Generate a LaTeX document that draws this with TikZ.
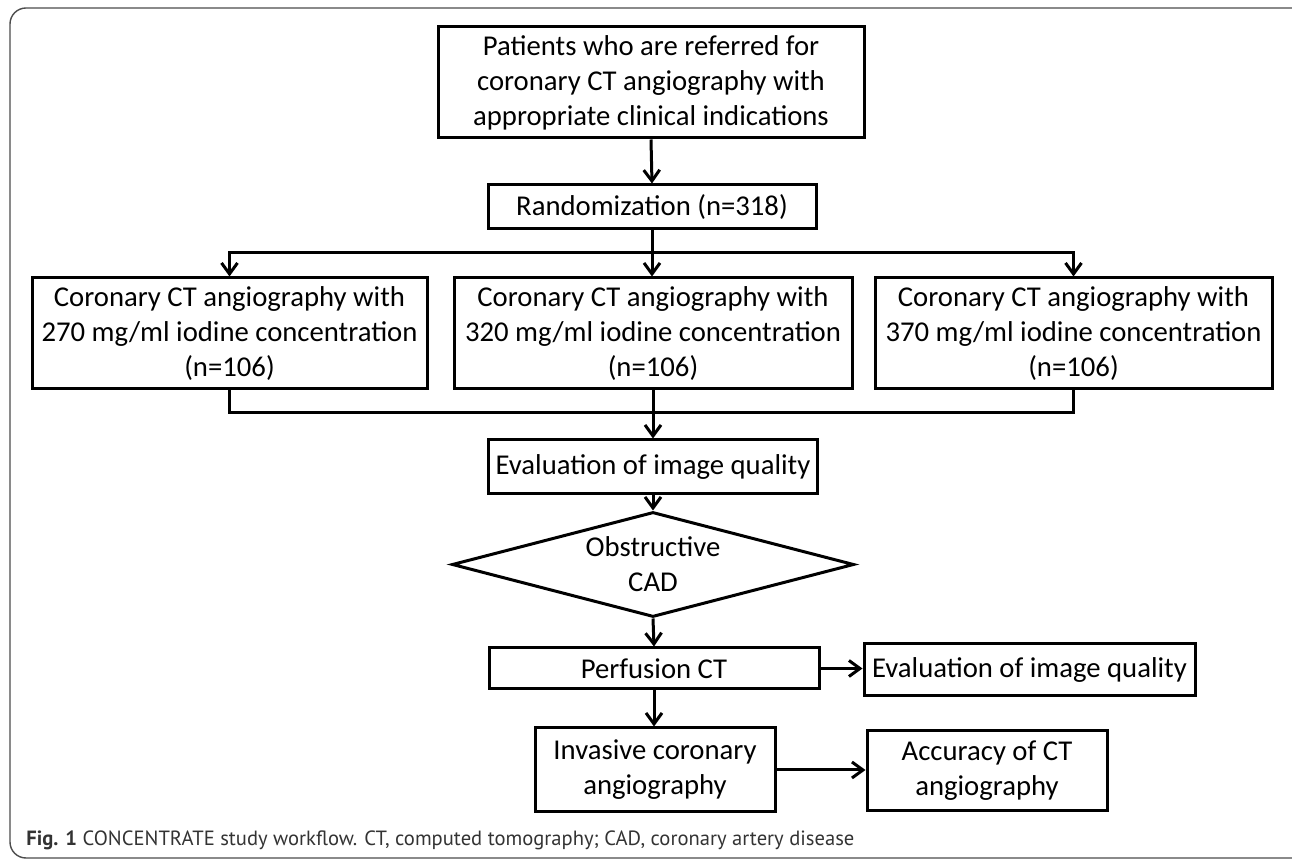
\documentclass[tikz,border=0pt]{standalone}
\usepackage{fontspec}
\setmainfont{Carlito}
\newfontfamily\capfont{PT Sans}
\usetikzlibrary{arrows.meta,shapes.geometric}

\tikzset{
  flowbox/.style={draw, line width=1.5pt, align=center, inner sep=0pt,
    font=\fontsize{14.35}{17.5}\selectfont},
  decision/.style={flowbox, diamond, aspect=3.8},
  flowline/.style={line width=1.5pt},
  flowarrow/.style={flowline, -{Straight Barb[length=5.5pt,width=8pt]}}
}

\begin{document}
\begin{tikzpicture}[x=0.5pt,y=-0.5pt]
        % page and frame
        \useasboundingbox (0,0) rectangle (1292,860);
        \draw[black!70, line width=0.7pt, rounded corners=8pt] (10,8) rectangle (1320,858);
        % boxes
        \node[flowbox, minimum width=213pt, minimum height=55.5pt] (patients) at (651,82.5)
          {Patients who are referred for\\coronary CT angiography with\\appropriate clinical indications};
        \node[flowbox, minimum width=164pt, minimum height=22pt] (random) at (652,207)
          {Randomization (n=318)};
        \node[flowbox, minimum width=197.5pt, minimum height=55.5pt] (conc270) at (229.5,333.5)
          {Coronary CT angiography with\\270 mg/ml iodine concentration\\(n=106)};
        \node[flowbox, minimum width=199pt, minimum height=55.5pt] (conc320) at (653,333.5)
          {Coronary CT angiography with\\320 mg/ml iodine concentration\\(n=106)};
        \node[flowbox, minimum width=198.5pt, minimum height=55.5pt] (conc370) at (1073.5,333.5)
          {Coronary CT angiography with\\370 mg/ml iodine concentration\\(n=106)};
        \node[flowbox, minimum width=164.5pt, minimum height=27pt] (evalimg) at (653,467)
          {Evaluation of image quality};
        \node[decision, minimum width=201pt, minimum height=52.5pt] (obstr) at (653,564.5)
          {Obstructive\\CAD};
        \node[flowbox, minimum width=165pt, minimum height=20.5pt] (perfct) at (654,668.5)
          {Perfusion CT};
        \node[flowbox, minimum width=165.5pt, minimum height=26pt] (evalperf) at (1029.5,670)
          {Evaluation of image quality};
        \node[flowbox, minimum width=120pt, minimum height=42pt] (ica) at (655,770)
          {Invasive coronary\\angiography};
        \node[flowbox, minimum width=120pt, minimum height=40pt] (accuracy) at (987,771)
          {Accuracy of CT\\angiography};
        % split and merge
        \coordinate (split) at (652,253);
        \coordinate (merge) at (653,413);
        \draw[flowarrow] (patients.south) -- (random.north);
        \draw[flowline] (random.south) -- (split);
        \draw[flowarrow] (split) -| (conc270.north);
        \draw[flowarrow] (split) -| (conc370.north);
        \draw[flowarrow] (split) -- (split |- conc320.north);
        \draw[flowline] (conc270.south) |- (merge) -| (conc370.south);
        \draw[flowline] (conc320.south) -- (merge);
        \draw[flowarrow] (merge) -- (evalimg.north);
        \draw[flowarrow] (evalimg.south) -- (obstr.north);
        \draw[flowarrow] (obstr.south) -- (perfct.north);
        \draw[flowarrow] (perfct.east) -- (perfct.east -| evalperf.west);
        \draw[flowarrow] (perfct.south) -- (perfct.south |- ica.north);
        \draw[flowarrow] (ica.east) -- (ica.east -| accuracy.west);
        % caption
        \node[anchor=base west, inner sep=0pt, text=black!80,
          font=\capfont\fontsize{10.3}{12}\selectfont] (caption) at (26,846)
          {\textbf{Fig. 1} CONCENTRATE study workflow. CT, computed tomography; CAD, coronary artery disease};
\end{tikzpicture}
\end{document}
